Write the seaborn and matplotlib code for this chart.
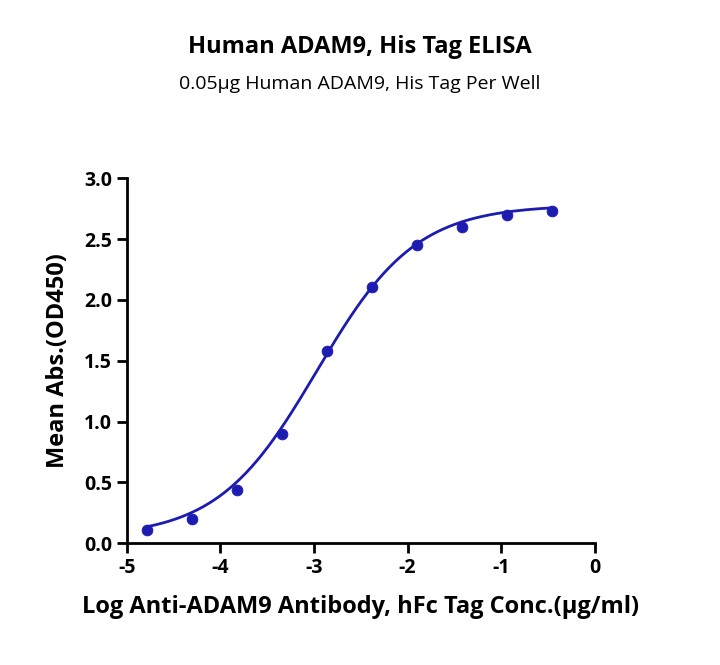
import numpy as np
import matplotlib
matplotlib.use("Agg")
import matplotlib.pyplot as plt
import seaborn as sns
import pandas as pd

# data
log_conc = [-4.78, -4.30, -3.82, -3.34, -2.86, -2.38, -1.90, -1.42, -0.94, -0.46]
mean_abs = [0.11, 0.20, 0.44, 0.90, 1.58, 2.11, 2.45, 2.60, 2.70, 2.73]
# 4PL fit parameters (estimated)
bottom, top, ec50, hill = 0.05, 2.78, -2.97, 0.82

sns.set_style("ticks")
plt.rcParams['font.family'] = ['Open Sans', 'DejaVu Sans']
plt.rcParams['axes.unicode_minus'] = False
plt.rcParams['text.color'] = 'black'

fig = plt.figure(figsize=(7.2, 6.65), dpi=100)
ax = fig.add_axes([0.176, 0.183, 0.650, 0.549])
color = "#1c1cb0"

xs = np.linspace(min(log_conc), max(log_conc), 300)
ys = bottom + (top - bottom) / (1 + 10 ** ((ec50 - xs) * hill))
sns.lineplot(x=xs, y=ys, ax=ax, color=color, lw=2)
df = pd.DataFrame({"x": log_conc, "y": mean_abs})
sns.scatterplot(data=df, x="x", y="y", ax=ax, color=color, s=60, edgecolor=color, zorder=3)

ax.set_xlim(-5, 0)
ax.set_ylim(0, 3.0)
ax.set_xticks([-5, -4, -3, -2, -1, 0])
ax.set_yticks(np.arange(0, 3.01, 0.5))
ax.set_yticklabels([f"{v:.1f}" for v in np.arange(0, 3.01, 0.5)])
for s in ["top", "right"]:
    ax.spines[s].set_visible(False)
for s in ["left", "bottom"]:
    ax.spines[s].set_linewidth(2)
    ax.spines[s].set_color("black")
ax.tick_params(width=2, length=7, labelsize=14, colors="black")
for lab in ax.get_xticklabels() + ax.get_yticklabels():
    lab.set_fontweight("bold")
ax.set_xlabel("Log Anti-ADAM9 Antibody, hFc Tag Conc.(\u00b5g/ml)", fontsize=17, fontweight="bold", labelpad=12, color="black")
ax.set_ylabel("Mean Abs.(OD450)", fontsize=17, fontweight="bold", labelpad=10, color="black")

fig.text(0.5, 0.92, "Human ADAM9, His Tag ELISA", ha="center", fontsize=17, fontweight="bold")
fig.text(0.5, 0.866, "0.05\u00b5g Human ADAM9, His Tag Per Well", ha="center", fontsize=14)

fig.savefig("out.png", dpi=100)
